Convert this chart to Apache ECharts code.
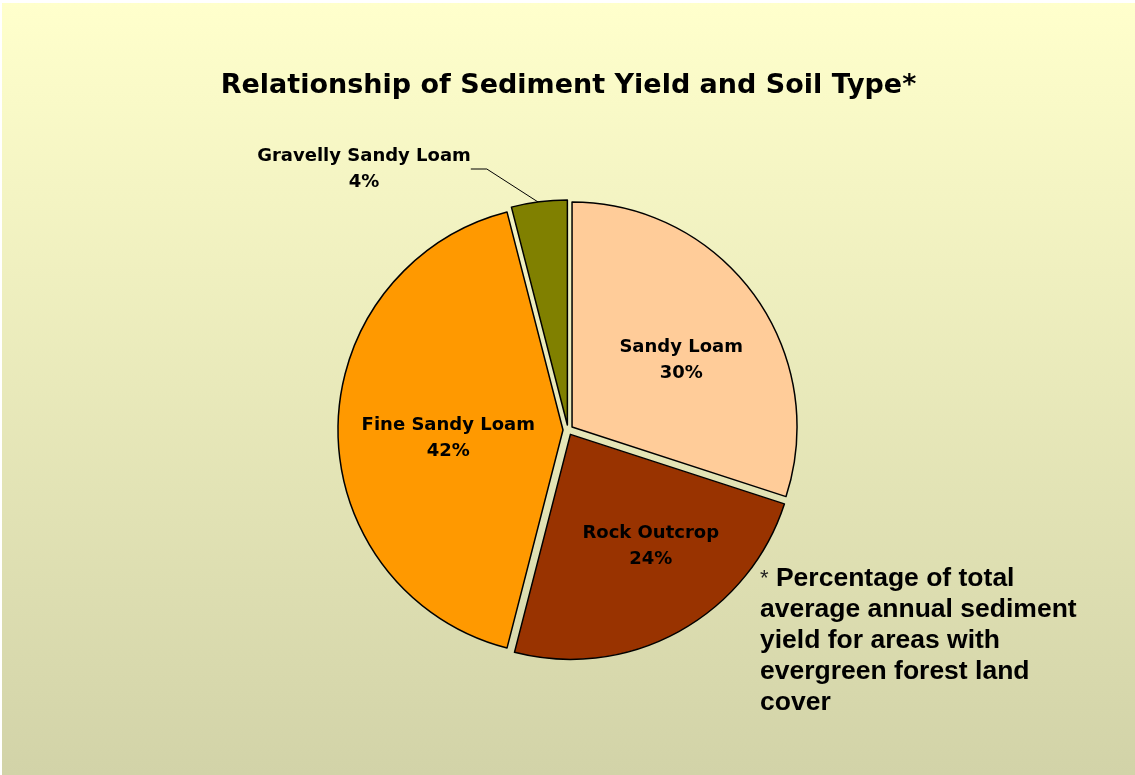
<!DOCTYPE html>
<html>
<head>
<meta charset="utf-8">
<script src="https://cdn.jsdelivr.net/npm/echarts@6/dist/echarts.min.js"></script>
<style>
html,body{margin:0;padding:0;background:#ffffff;}
#c{position:absolute;left:2px;top:3px;width:1133px;height:772px;}
</style>
</head>
<body>
<div id="c"></div>
<script>
const titleText = 'Relationship of Sediment Yield and Soil Type*';
const categories = ['Sandy Loam', 'Rock Outcrop', 'Fine Sandy Loam', 'Gravelly Sandy Loam'];
const values = [30, 24, 42, 4];
const colors = ['#FFCC99', '#993300', '#FF9900', '#808000'];
const footnoteLines = ['Percentage of total', 'average annual sediment', 'yield for areas with', 'evergreen forest land', 'cover'];

// label placement styling (radial push + small nudges)
const labelPush = [1.18, 1.25, 1.07];
const labelNudge = [[1, 12], [12, -12], [6, 8]];

const chart = echarts.init(document.getElementById('c'));
const CX = 566, CY = 427, R = 225;

const sliceData = categories.map((name, i) => ({
  name: name, value: values[i], selected: true, itemStyle: { color: colors[i] }
}));
const labelData = categories.map((name, i) => {
  const item = { name: name, value: values[i] };
  if (i === 3) {
    item.label = { position: 'outside' };
    item.labelLine = { show: true, length: 20, length2: 16, smooth: false, lineStyle: { color: '#000', width: 1 } };
  }
  return item;
});

chart.setOption({
  backgroundColor: {
    type: 'linear', x: 0, y: 0, x2: 0, y2: 1,
    colorStops: [{ offset: 0, color: '#FFFFCC' }, { offset: 1, color: '#D2D3A8' }]
  },
  animation: false,
  title: {
    text: titleText,
    left: 'center',
    top: 64,
    textStyle: { fontFamily: 'DejaVu Sans', fontWeight: 'bold', fontSize: 27, color: '#000' }
  },
  series: [{
    type: 'pie',
    center: [CX, CY],
    radius: [0, R],
    startAngle: 90,
    clockwise: true,
    selectedMode: 'multiple',
    selectedOffset: 5,
    emphasis: { disabled: true },
    itemStyle: { borderColor: '#000', borderWidth: 1.5 },
    label: { show: false },
    labelLine: { show: false },
    data: sliceData
  }, {
    type: 'pie',
    center: [CX, CY],
    radius: [0, R + 4],
    startAngle: 90,
    clockwise: true,
    silent: true,
    selectedMode: false,
    avoidLabelOverlap: false,
    emphasis: { disabled: true },
    itemStyle: { color: 'rgba(0,0,0,0)', borderWidth: 0 },
    label: {
      show: true,
      position: 'inside',
      formatter: '{b}\n{d}%',
      fontFamily: 'DejaVu Sans',
      fontWeight: 'bold',
      fontSize: 18,
      lineHeight: 26,
      color: '#000',
      align: 'center'
    },
    labelLayout: function (p) {
      const r = p.labelRect;
      const lx = r.x + r.width / 2, ly = r.y + r.height / 2;
      if (p.dataIndex === 3) {
        return { x: 362, y: 166, align: 'center', verticalAlign: 'middle' };
      }
      const i = p.dataIndex, k = labelPush[i];
      return {
        x: CX + (lx - CX) * k + labelNudge[i][0],
        y: CY + (ly - CY) * k + labelNudge[i][1],
        align: 'center', verticalAlign: 'middle'
      };
    },
    data: labelData
  }],
  graphic: [{
    type: 'text',
    left: 758,
    top: 560,
    style: {
      text: '{s|*} ' + footnoteLines.join('\n'),
      fill: '#000',
      font: 'bold 26.5px "Liberation Sans", Arial, sans-serif',
      lineHeight: 31,
      rich: {
        s: { font: 'normal 22px "Liberation Sans", Arial, sans-serif', fill: '#222', lineHeight: 31 }
      }
    }
  }]
});
</script>
</body>
</html>
